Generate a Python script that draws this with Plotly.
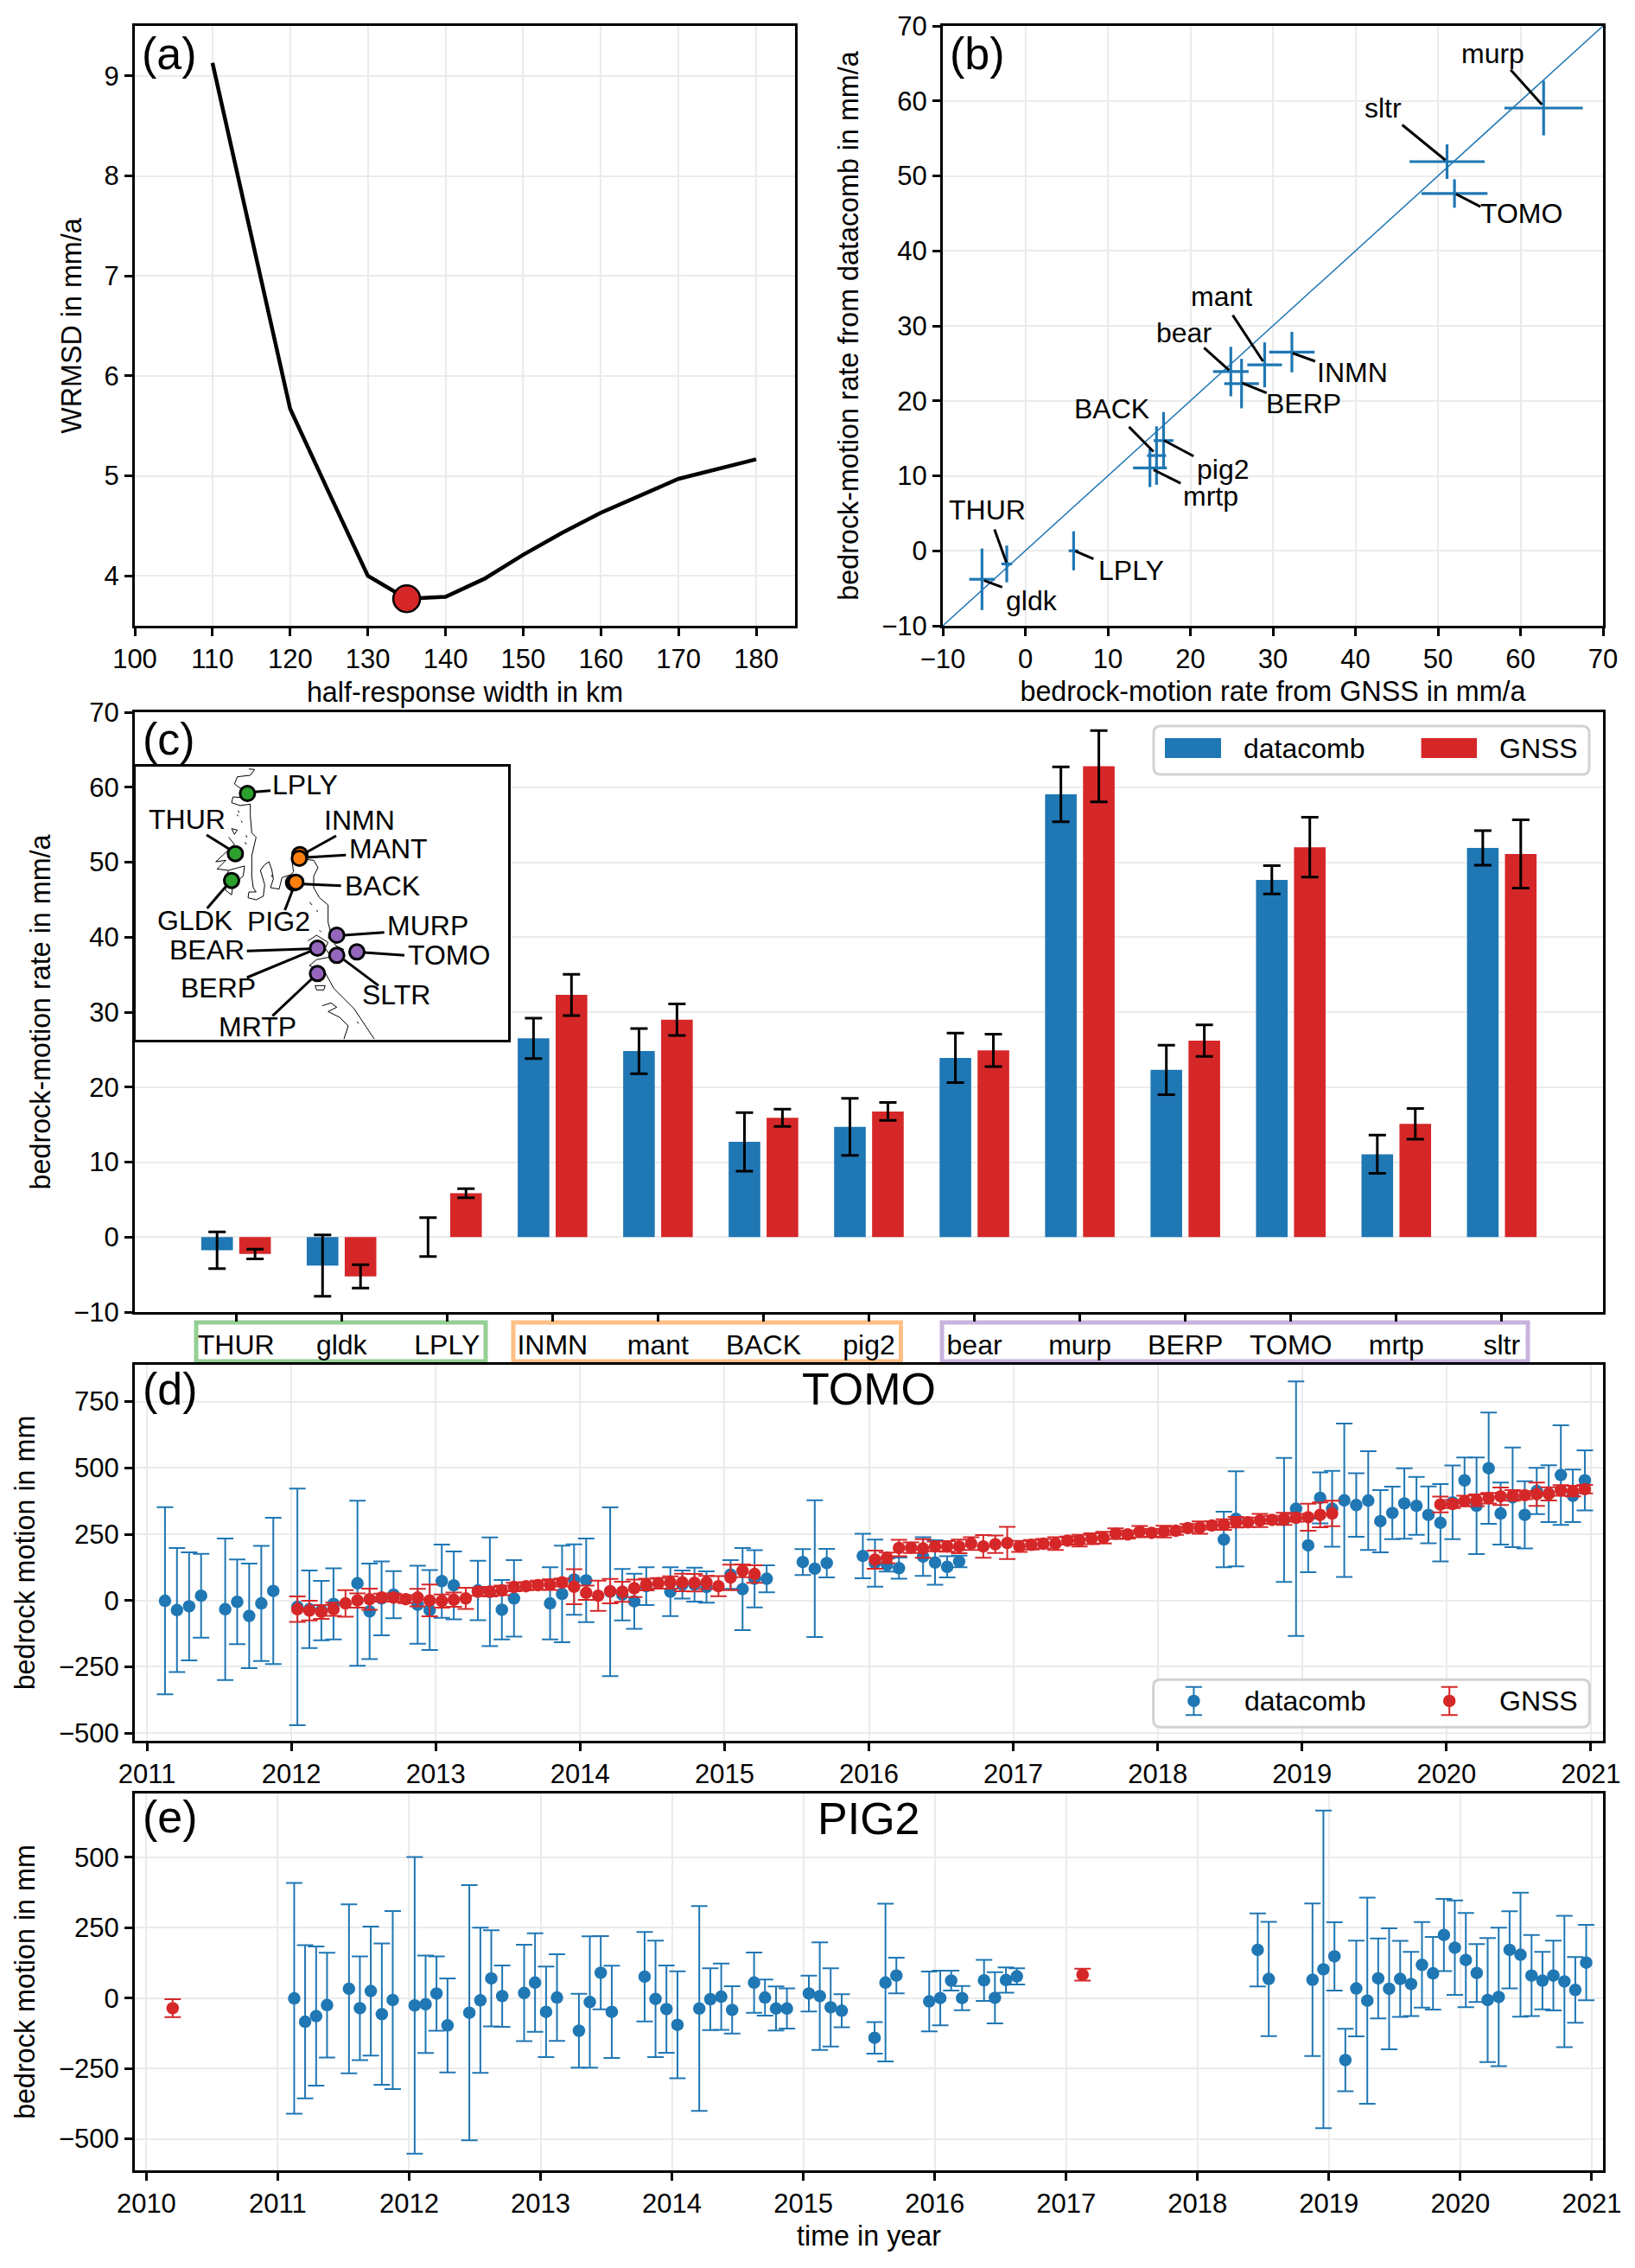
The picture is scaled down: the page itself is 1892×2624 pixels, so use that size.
import plotly.graph_objects as go

W, H = 1892, 2624
BLUE, RED = "#1f77b4", "#d62728"
FONT = "Liberation Sans"

# ---------- panel (a)
width_km = [110, 115, 120, 125, 130, 135, 140, 145, 150, 155, 160, 170, 180]
wrmsd = [9.13, 7.4, 5.67, 4.83, 4.0, 3.77, 3.79, 3.97, 4.21, 4.43, 4.63, 4.97, 5.165]
best_km, best_wrmsd = [135], [3.77]

# ---------- panels (b), (c)
stations = ["THUR", "gldk", "LPLY", "INMN", "mant", "BACK", "pig2", "bear", "murp", "BERP", "TOMO", "mrtp", "sltr"]
rate_dc = [-1.75, -3.8, 0.0, 26.5, 24.8, 12.7, 14.7, 23.9, 59.05, 22.3, 47.65, 11.05, 51.9]
err_dc = [2.45, 4.1, 2.6, 2.7, 3.0, 3.9, 3.8, 3.3, 3.65, 3.3, 1.9, 2.55, 2.3]
rate_gnss = [-2.25, -5.25, 5.85, 32.3, 29.0, 15.9, 16.75, 24.9, 62.8, 26.2, 52.0, 15.1, 51.1]
err_gnss = [0.65, 1.55, 0.6, 2.75, 2.1, 1.15, 1.2, 2.15, 4.75, 2.1, 4.0, 2.05, 4.55]

# label, text x, text y, leader x0, y0, x1, y1 (in units of panel b)
b_labels = [
    ("murp", 56.67, 66.26, 58.81, 64.15, 62.6, 59.5),
    ("sltr", 43.33, 59.03, 45.67, 56.8, 50.9, 52.1),
    ("TOMO", 60.08, 45.0, 55.15, 45.9, 52.18, 47.58),
    ("mant", 23.74, 33.9, 25.13, 31.42, 28.8, 25.27),
    ("bear", 19.26, 29.07, 21.66, 27.08, 24.69, 24.07),
    ("INMN", 39.67, 23.77, 35.12, 25.27, 32.4, 26.36),
    ("BERP", 33.73, 19.67, 29.24, 21.05, 26.27, 22.38),
    ("BACK", 10.47, 18.95, 12.56, 16.53, 15.53, 13.22),
    ("pig2", 23.93, 10.81, 20.39, 12.62, 16.79, 14.73),
    ("mrtp", 22.48, 7.31, 18.82, 9.0, 15.53, 10.81),
    ("THUR", -4.57, 5.5, -3.74, 2.85, -2.29, -1.55),
    ("LPLY", 12.81, -2.63, 8.26, -1.07, 6.05, -0.04),
    ("gldk", 0.81, -6.67, -2.8, -4.86, -5.0, -3.96),
]

# ---------- panel (d) TOMO
d_dc_t = [2011.125, 2011.208, 2011.292, 2011.375, 2011.542, 2011.625, 2011.708, 2011.792, 2011.875,
          2012.042, 2012.125, 2012.208, 2012.292, 2012.458, 2012.542, 2012.625, 2012.708, 2012.875, 2012.958,
          2013.042, 2013.125, 2013.292, 2013.375, 2013.458, 2013.542, 2013.792, 2013.875, 2013.958,
          2014.042, 2014.208, 2014.292, 2014.375, 2014.458, 2014.625, 2014.708, 2014.792, 2014.875,
          2015.042, 2015.125, 2015.208, 2015.292, 2015.542, 2015.625, 2015.708, 2015.958,
          2016.042, 2016.125, 2016.208, 2016.375, 2016.458, 2016.542, 2016.625,
          2018.458, 2018.542, 2018.875, 2018.958,
          2019.042, 2019.125, 2019.208, 2019.292, 2019.375, 2019.458, 2019.542, 2019.625, 2019.708, 2019.792, 2019.875, 2019.958,
          2020.042, 2020.125, 2020.208, 2020.292, 2020.375, 2020.458, 2020.542, 2020.625, 2020.708, 2020.792, 2020.875, 2020.958]
d_dc_v = [-1, -36, -22, 18, -33, -5, -58, -11, 36,
          -24, -33, -38, -13, 65, -41, 8, 22, -16, -36,
          73, 57, 38, 33, -35, 8, -11, 25, 79,
          76, 33, 22, -3, 54, 33, 60, 60, 51,
          98, 43, 82, 82, 145, 120, 141, 168,
          141, 134, 122, 166, 143, 127, 147,
          230, 308, 304, 346,
          208, 387, 346, 378, 360, 377, 299, 330, 366, 357, 323, 293,
          370, 453, 357, 499, 328, 389, 323, 413, 403, 473, 395, 453]
d_dc_e = [353, 234, 204, 158, 267, 160, 197, 217, 276,
          446, 146, 112, 134, 311, 180, 139, 89, 147, 151,
          138, 128, 112, 205, 112, 144, 136, 182, 133,
          158, 318, 97, 104, 71, 92, 53, 64, 59,
          54, 155, 108, 51, 49, 258, 54, 84,
          89, 25, 40, 73, 84, 40, 22,
          105, 179, 234, 480,
          101, 96, 143, 289, 120, 186, 117, 99, 133, 109, 107, 146,
          139, 86, 182, 210, 117, 188, 127, 87, 107, 188, 99, 113]
d_gn_t = [2012.042, 2012.125, 2012.208, 2012.292, 2012.375, 2012.458, 2012.542, 2012.625, 2012.708, 2012.792, 2012.875, 2012.958,
          2013.042, 2013.125, 2013.208, 2013.292, 2013.375, 2013.458, 2013.542, 2013.625, 2013.708, 2013.792, 2013.875, 2013.958,
          2014.042, 2014.125, 2014.208, 2014.292, 2014.375, 2014.458, 2014.542, 2014.625, 2014.708, 2014.792, 2014.875, 2014.958,
          2015.042, 2015.125, 2015.208,
          2016.042, 2016.125, 2016.208, 2016.292, 2016.375, 2016.458, 2016.542, 2016.625, 2016.708, 2016.792, 2016.875, 2016.958,
          2017.042, 2017.125, 2017.208, 2017.292, 2017.375, 2017.458, 2017.542, 2017.625, 2017.708, 2017.792, 2017.875, 2017.958,
          2018.042, 2018.125, 2018.208, 2018.292, 2018.375, 2018.458, 2018.542, 2018.625, 2018.708, 2018.792, 2018.875, 2018.958,
          2019.042, 2019.125, 2019.208,
          2019.958, 2020.042, 2020.125, 2020.208, 2020.292, 2020.375, 2020.458, 2020.542, 2020.625, 2020.708, 2020.792, 2020.875, 2020.958]
d_gn_v = [-33, -38, -43, -33, -11, 0, 5, 11, 11, 5, 11, 0,
          -2, 3, 8, 33, 33, 38, 51, 54, 58, 60, 68, 52,
          29, 18, 35, 33, 46, 60, 65, 68, 68, 67, 68, 54,
          87, 112, 100,
          154, 161, 198, 199, 196, 204, 204, 204, 215, 204, 212, 217,
          204, 210, 214, 215, 226, 226, 233, 237, 252, 249, 260, 255,
          260, 263, 273, 275, 283, 286, 295, 295, 302, 304, 308, 312,
          314, 323, 328,
          362, 364, 375, 378, 386, 393, 396, 397, 401, 402, 415, 413, 420]
d_gn_e = [48, 37, 26, 25, 50, 27, 40, 15, 15, 15, 33, 60,
          25, 27, 40, 15, 18, 18, 16, 15, 17, 20, 15, 66,
          27, 57, 46, 38, 33, 22, 20, 23, 33, 33, 25, 38,
          48, 24, 33,
          34, 20, 31, 20, 35, 18, 20, 26, 24, 43, 33, 61,
          21, 18, 18, 24, 15, 22, 20, 22, 20, 15, 21, 15,
          22, 15, 15, 23, 15, 20, 20, 18, 25, 15, 23, 15,
          51, 47, 48,
          30, 15, 20, 22, 20, 33, 20, 15, 44, 25, 20, 20, 16]

# ---------- panel (e) PIG2
e_dc_t = [2011.125, 2011.208, 2011.292, 2011.375, 2011.542, 2011.625, 2011.708, 2011.792, 2011.875,
          2012.042, 2012.125, 2012.208, 2012.292, 2012.458, 2012.542, 2012.625, 2012.708, 2012.875, 2012.958,
          2013.042, 2013.125, 2013.292, 2013.375, 2013.458, 2013.542, 2013.792, 2013.875, 2013.958,
          2014.042, 2014.208, 2014.292, 2014.375, 2014.458, 2014.625, 2014.708, 2014.792, 2014.875,
          2015.042, 2015.125, 2015.208, 2015.292, 2015.542, 2015.625, 2015.708, 2015.958,
          2016.042, 2016.125, 2016.208, 2016.375, 2016.458, 2016.542, 2016.625,
          2018.458, 2018.542, 2018.875, 2018.958,
          2019.042, 2019.125, 2019.208, 2019.292, 2019.375, 2019.458, 2019.542, 2019.625, 2019.708, 2019.792, 2019.875, 2019.958,
          2020.042, 2020.125, 2020.208, 2020.292, 2020.375, 2020.458, 2020.542, 2020.625, 2020.708, 2020.792, 2020.875, 2020.958]
e_dc_v = [-1, -84, -64, -25, 33, -36, 25, -57, -7,
          -26, -22, 16, -97, -52, -8, 70, 7, 18, 55,
          -49, 2, -116, -14, 90, -49, 76, -3, -39,
          -95, -37, -4, 5, -42, 55, 2, -37, -37,
          16, 7, -33, -45, -141, 55, 80, -12,
          0, 62, 0, 63, 1, 64, 77,
          171, 68, 65, 102,
          148, -220, 34, -9, 70, 33, 68, 50, 118, 88, 224, 179,
          135, 89, -7, 4, 171, 154, 80, 62, 80, 59, 29, 126]
e_dc_e = [410, 272, 247, 186, 300, 184, 229, 251, 316,
          527, 173, 132, 167, 453, 258, 171, 109, 171, 175,
          161, 154, 131, 233, 130, 164, 159, 207, 155,
          190, 364, 110, 118, 84, 107, 64, 78, 71,
          64, 191, 139, 59, 56, 280, 63, 106,
          97, 35, 43, 73, 91, 45, 29,
          130, 203, 271, 564,
          121, 111, 170, 366, 142, 215, 135, 114, 152, 129, 128, 168,
          167, 103, 220, 246, 137, 220, 144, 102, 124, 233, 117, 134]
e_gn_t = [2010.2, 2017.125]
e_gn_v = [-36, 83]
e_gn_e = [32, 21]

# ---------- inset map outlines (inset-local coordinates)
coast = [
    [(415, 28), (435, 30), (420, 50), (375, 55), (365, 80), (385, 95), (420, 95), (425, 130), (360, 125), (355, 145),
     (385, 155), (420, 150), (420, 190), (425, 250), (440, 265), (425, 330), (425, 400), (430, 440), (440, 455),
     (415, 455), (412, 475), (440, 482), (465, 470), (470, 430), (455, 380), (470, 360), (485, 350), (495, 380),
     (500, 410), (490, 440), (520, 445), (530, 405), (560, 395), (570, 385), (565, 350), (590, 340), (640, 345),
     (655, 370), (640, 400), (640, 440), (660, 475), (690, 500), (690, 560), (700, 600), (715, 640), (745, 655)],
    [(620, 625), (650, 605), (690, 630), (680, 650), (700, 680), (650, 690), (625, 710), (680, 735), (710, 790),
     (740, 820), (780, 860), (820, 920), (850, 965)],
    [(670, 850), (700, 840), (720, 855), (690, 870), (730, 890), (760, 920), (745, 965)],
    [(645, 780), (680, 780), (675, 795), (650, 795), (645, 780)],
    [(345, 265), (365, 290), (300, 350), (335, 345), (305, 375), (345, 380), (380, 370), (400, 365), (395, 400),
     (360, 430), (355, 465), (335, 450), (330, 410), (345, 380)],
    [(355, 235), (375, 240), (365, 255), (355, 235)],
    [(378, 172), (381, 180)], [(374, 186), (378, 192)], [(388, 208), (392, 214)], [(405, 258), (408, 266)],
    [(402, 282), (406, 290)], [(493, 396), (497, 404)], [(626, 490), (634, 500)], [(650, 518), (654, 524)],
    [(660, 588), (666, 594)], [(690, 610), (694, 618)], [(790, 905), (796, 912)],
]
map_sites = [
    ("#ff7f0e", 592, 325), ("#ff7f0e", 590, 338), ("#ff7f0e", 570, 423), ("#ff7f0e", 578, 421),
    ("#2ca02c", 410, 113), ("#2ca02c", 368, 322), ("#2ca02c", 355, 415),
    ("#9467bd", 720, 605), ("#9467bd", 653, 650), ("#9467bd", 720, 675), ("#9467bd", 790, 663), ("#9467bd", 653, 738),
]
map_labels = [
    ("LPLY", 610, 82, 435, 108, 490, 103), ("THUR", 200, 202, 268, 257, 345, 305),
    ("INMN", 800, 207, 718, 260, 610, 320), ("MANT", 900, 305, 752, 327, 615, 335),
    ("BACK", 877, 433, 735, 433, 600, 427), ("GLDK", 228, 553, 270, 512, 340, 430),
    ("PIG2", 517, 558, 540, 518, 568, 445), ("MURP", 1035, 572, 885, 595, 745, 605),
    ("BEAR", 270, 657, 408, 660, 625, 652), ("TOMO", 1110, 673, 955, 675, 815, 665),
    ("BERP", 308, 787, 408, 752, 630, 660), ("SLTR", 927, 813, 865, 780, 745, 690),
    ("MRTP", 445, 922, 497, 885, 635, 755),
]


def px(x):
    return x / W


def py(y):
    return 1 - y / H


def dom_x(a, b):
    return [px(a), px(b)]


def dom_y(top, bottom):
    return [py(bottom), py(top)]


def rounded(x0, y0, x1, y1, rx, ry):
    return (f"M{x0 + rx},{y0} L{x1 - rx},{y0} Q{x1},{y0} {x1},{y0 + ry} L{x1},{y1 - ry} Q{x1},{y1} {x1 - rx},{y1} "
            f"L{x0 + rx},{y1} Q{x0},{y1} {x0},{y1 - ry} L{x0},{y0 + ry} Q{x0},{y0} {x0 + rx},{y0} Z")


def fnt(size=31, color="black"):
    return dict(family=FONT, size=size, color=color)


fig = go.Figure()

# (a)
fig.add_trace(go.Scatter(x=width_km, y=wrmsd, mode="lines", line=dict(color="black", width=4.5),
                         xaxis="x", yaxis="y", showlegend=False))
fig.add_trace(go.Scatter(x=best_km, y=best_wrmsd, mode="markers",
                         marker=dict(color=RED, size=31, line=dict(color="black", width=2.5)),
                         xaxis="x", yaxis="y", showlegend=False))

# (b)
fig.add_trace(go.Scatter(x=[-10, 70], y=[-10, 70], mode="lines", line=dict(color=BLUE, width=1.5),
                         xaxis="x2", yaxis="y2", showlegend=False))
fig.add_trace(go.Scatter(x=rate_gnss, y=rate_dc, mode="markers", marker=dict(color=BLUE, size=1),
                         error_x=dict(type="data", array=err_gnss, color=BLUE, thickness=3.2, width=0),
                         error_y=dict(type="data", array=err_dc, color=BLUE, thickness=3.2, width=0),
                         xaxis="x2", yaxis="y2", showlegend=False))
lx, ly = [], []
for _, _, _, a, b, c, d in b_labels:
    lx += [a, c, None]
    ly += [b, d, None]
fig.add_trace(go.Scatter(x=lx, y=ly, mode="lines", line=dict(color="black", width=3),
                         xaxis="x2", yaxis="y2", showlegend=False))

# (c)
fig.add_trace(go.Bar(x=stations, y=rate_dc, name="datacomb", marker=dict(color=BLUE),
                     error_y=dict(type="data", array=err_dc, color="black", thickness=3, width=10),
                     xaxis="x3", yaxis="y3", showlegend=False))
fig.add_trace(go.Bar(x=stations, y=rate_gnss, name="GNSS", marker=dict(color=RED),
                     error_y=dict(type="data", array=err_gnss, color="black", thickness=3, width=10),
                     xaxis="x3", yaxis="y3", showlegend=False))


def series(t, v, e, color, xa, ya):
    fig.add_trace(go.Scatter(x=t, y=v, mode="markers", marker=dict(color=color, size=14.5),
                             error_y=dict(type="data", array=e, color=color, thickness=2, width=9.5),
                             xaxis=xa, yaxis=ya, showlegend=False))


# (d)
series(d_dc_t, d_dc_v, d_dc_e, BLUE, "x4", "y4")
series(d_gn_t, d_gn_v, d_gn_e, RED, "x4", "y4")
series([2018.25], [-379], [53], BLUE, "x4", "y4")
series([2020.02], [-379], [53], RED, "x4", "y4")

# (e)
series(e_dc_t, e_dc_v, e_dc_e, BLUE, "x5", "y5")
series(e_gn_t, e_gn_v, e_gn_e, RED, "x5", "y5")

# inset
cx, cy = [], []
for seg in coast:
    for p, q in seg:
        cx.append(p)
        cy.append(q)
    cx.append(None)
    cy.append(None)
fig.add_trace(go.Scatter(x=cx, y=cy, mode="lines", line=dict(color="black", width=1),
                         xaxis="x6", yaxis="y6", showlegend=False))
mx, my = [], []
for _, _, _, a, b, c, d in map_labels:
    mx += [a, c, None]
    my += [b, d, None]
fig.add_trace(go.Scatter(x=mx, y=my, mode="lines", line=dict(color="black", width=3),
                         xaxis="x6", yaxis="y6", showlegend=False))
fig.add_trace(go.Scatter(x=[s[1] for s in map_sites], y=[s[2] for s in map_sites], mode="markers",
                         marker=dict(color=[s[0] for s in map_sites], size=17, line=dict(color="black", width=3)),
                         xaxis="x6", yaxis="y6", showlegend=False))


GRID = dict(showgrid=True, gridcolor="#ebebeb", gridwidth=1.5, zeroline=False)
LINE = dict(showline=True, linecolor="black", linewidth=3, mirror=True, ticks="outside", ticklen=9,
            tickwidth=2.5, tickcolor="black", tickfont=fnt(), automargin=False)


def title(text, standoff):
    return dict(text=text, font=fnt(32.3), standoff=standoff)


c_line = dict(LINE)
c_line["tickfont"] = fnt(32)
c_line["ticklen"] = 8

layout = dict(
    width=W, height=H, margin=dict(l=0, r=0, t=0, b=0), template="none",
    paper_bgcolor="white", plot_bgcolor="white", font=fnt(),
    barmode="group", bargap=0.28, bargroupgap=0.167, showlegend=False,
    xaxis=dict(domain=dom_x(156, 920), anchor="y", range=[100, 185], dtick=10, tick0=100,
               title=title("half-response width in km", 11), **GRID, **LINE),
    yaxis=dict(domain=dom_y(30, 724), anchor="x", range=[3.5, 9.5], dtick=1, tick0=0,
               title=title("WRMSD in mm/a", 17), **GRID, **LINE),
    xaxis2=dict(domain=dom_x(1091, 1855), anchor="y2", range=[-10, 70], dtick=10, tick0=0,
                title=title("bedrock-motion rate from GNSS in mm/a", 10), **GRID, **LINE),
    yaxis2=dict(domain=dom_y(30, 724), anchor="x2", range=[-10, 70], dtick=10, tick0=0,
                title=title("bedrock-motion rate from datacomb in mm/a", 17), **GRID, **LINE),
    xaxis3=dict(domain=dom_x(156, 1855), anchor="y3", type="category", categoryorder="array",
                categoryarray=stations, range=[-0.96, 12.96], showgrid=False, zeroline=False, **c_line),
    yaxis3=dict(domain=dom_y(824, 1518), anchor="x3", range=[-10, 70], dtick=10, tick0=0,
                title=title("bedrock-motion rate in mm/a", 17), **GRID, **LINE),
    xaxis4=dict(domain=dom_x(156, 1855), anchor="y4", range=[2010.916, 2021.084], dtick=1, tick0=2011,
                tickformat="d", **GRID, **LINE),
    yaxis4=dict(domain=dom_y(1579, 2014), anchor="x4", range=[-529, 889], dtick=250, tick0=0,
                title=title("bedrock motion in mm", 18), **GRID, **LINE),
    xaxis5=dict(domain=dom_x(156, 1855), anchor="y5", range=[2009.912, 2021.086], dtick=1, tick0=2010,
                tickformat="d", title=title("time in year", 10), **GRID, **LINE),
    yaxis5=dict(domain=dom_y(2075, 2511), anchor="x5", range=[-611.7, 726.5], dtick=250, tick0=0,
                title=title("bedrock motion in mm", 18), **GRID, **LINE),
    xaxis6=dict(domain=dom_x(157, 588), anchor="y6", range=[22, 1315], showgrid=False, zeroline=False,
                showticklabels=False, showline=True, linecolor="black", linewidth=3, mirror=True, ticks=""),
    yaxis6=dict(domain=dom_y(887, 1203), anchor="x6", range=[968, 20], showgrid=False, zeroline=False,
                showticklabels=False, showline=True, linecolor="black", linewidth=3, mirror=True, ticks=""),
)

ann = []


def note(x, y, text, size=32, xref="paper", yref="paper"):
    ann.append(dict(x=x, y=y, xref=xref, yref=yref, text=text, showarrow=False, xanchor="center",
                    yanchor="middle", font=fnt(size)))


for t, a, b in [("(a)", 196, 62), ("(b)", 1131, 62), ("(c)", 195, 855), ("(d)", 197, 1607), ("(e)", 197, 2102),
                ("TOMO", 1005.5, 1607), ("PIG2", 1005.5, 2104)]:
    note(px(a), py(b), t, 52)
for lab, tx, ty, *_ in b_labels:
    note(tx, ty, lab, 32, "x2", "y2")
for lab, tx, ty, *_ in map_labels:
    note(tx, ty, lab, 32, "x6", "y6")
note(px(1509.5), py(865.7), "datacomb")
note(px(1780), py(865.7), "GNSS")
note(px(1510), py(1968), "datacomb")
note(px(1780), py(1968), "GNSS")
layout["annotations"] = ann

shapes = []
for x0, x1, col in [(227, 562, "rgba(44,160,44,0.5)"), (594, 1042.5, "rgba(255,127,14,0.5)"),
                    (1090, 1768, "rgba(148,103,189,0.5)")]:
    shapes.append(dict(type="rect", xref="paper", yref="paper", x0=px(x0), x1=px(x1), y0=py(1575), y1=py(1530),
                       line=dict(color=col, width=5), fillcolor="rgba(0,0,0,0)", layer="below"))
# legend of (c)
shapes.append(dict(type="path", xref="paper", yref="paper", path=rounded(px(1335), py(896), px(1839), py(840), px(8), 8 / H),
                   line=dict(color="#d2d2d2", width=3), fillcolor="rgba(255,255,255,0.8)", layer="above"))
for x0, x1, col in [(1348, 1413, BLUE), (1644.6, 1709, RED)]:
    shapes.append(dict(type="rect", xref="paper", yref="paper", x0=px(x0), x1=px(x1), y0=py(877), y1=py(854),
                       line=dict(width=0), fillcolor=col, layer="above"))
# legend of (d)
shapes.append(dict(type="path", xref="x4", yref="y4", path=rounded(2017.97, -477.8, 2020.99, -298.6, 0.05, 26),
                   line=dict(color="#d2d2d2", width=3), fillcolor="rgba(255,255,255,0.8)", layer="between"))
layout["shapes"] = shapes

fig.update_layout(**layout)
fig.write_html("out.html", post_script="document.body.style.margin='0';", config={"displayModeBar": False})
